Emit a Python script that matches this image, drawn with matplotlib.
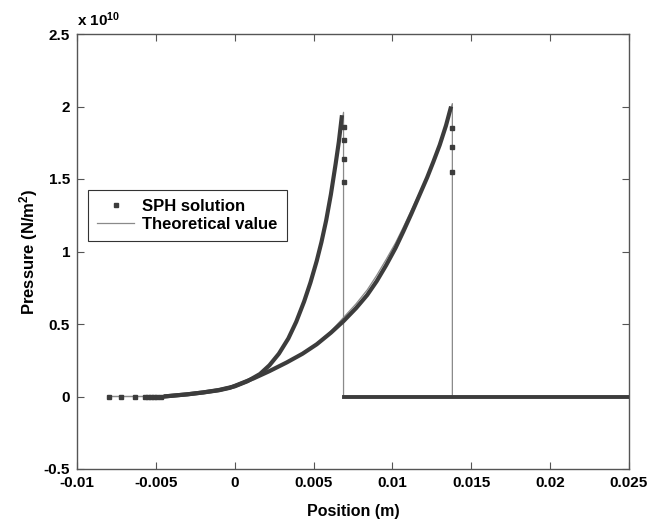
import matplotlib
matplotlib.use("Agg")
import matplotlib.pyplot as plt
from matplotlib.lines import Line2D

plt.rcParams['font.family'] = ['Liberation Sans', 'DejaVu Sans']
plt.rcParams['font.weight'] = 'bold'
plt.rcParams['axes.labelweight'] = 'bold'
plt.rcParams['mathtext.default'] = 'regular'

# ---- data (pressure in units of 1e10 N/m^2, position in m) ----
sph1_x = [-0.0045, -0.004, -0.003, -0.002, -0.001, 0.0, 0.0008, 0.0016, 0.0022,
          0.0028, 0.0034, 0.0039, 0.0044, 0.0048, 0.0052, 0.0055, 0.0058,
          0.0061, 0.0064, 0.0066, 0.0068]
sph1_p = [0.0, 0.005, 0.015, 0.028, 0.045, 0.07, 0.105, 0.155, 0.215,
          0.295, 0.40, 0.515, 0.655, 0.785, 0.935, 1.065, 1.215,
          1.395, 1.605, 1.755, 1.94]

sph2_x = [-0.0045, -0.004, -0.003, -0.002, -0.001, -0.0003, 0.0012, 0.0022, 0.0033,
          0.0043, 0.0052, 0.0061, 0.0069, 0.0077, 0.0084, 0.0090, 0.0096, 0.0102,
          0.0107, 0.0112, 0.0117, 0.0122, 0.0126, 0.0130, 0.0134, 0.01372]
sph2_p = [0.0, 0.005, 0.015, 0.028, 0.043, 0.06, 0.125, 0.175, 0.235,
          0.295, 0.36, 0.44, 0.52, 0.61, 0.70, 0.795, 0.905, 1.025,
          1.14, 1.26, 1.385, 1.51, 1.62, 1.735, 1.87, 2.0]

tail_x = [-0.008, -0.0072, -0.0063, -0.0057, -0.0055, -0.0053, -0.0051, -0.0049, -0.0047]
tail_p = [0, 0, 0, 0, 0, 0, 0, 0, 0]

shock1_x = [0.0069, 0.0069, 0.0069, 0.0069]
shock1_p = [1.86, 1.77, 1.64, 1.48]
shock2_x = [0.0138, 0.0138, 0.0138]
shock2_p = [1.85, 1.72, 1.55]

zero_x = [0.0069, 0.025]
zero_p = [0.0, 0.0]

theory1_x = [-0.008, -0.0045, -0.003, -0.002, -0.001, 0.0, 0.0008, 0.0016, 0.0022,
             0.0028, 0.0034, 0.0039, 0.0044, 0.0048, 0.0052, 0.0055, 0.0058,
             0.0061, 0.0064, 0.0066, 0.0069, 0.0069, 0.025]
theory1_p = [0.0, 0.0, 0.015, 0.028, 0.045, 0.07, 0.105, 0.155, 0.215,
             0.295, 0.40, 0.515, 0.655, 0.785, 0.935, 1.065, 1.215,
             1.395, 1.605, 1.755, 1.96, 0.0, 0.0]

theory2_x = [-0.008, -0.0045, -0.003, -0.002, -0.001, 0.0012, 0.0022, 0.0033, 0.0043,
             0.0052, 0.0061, 0.0069, 0.0077, 0.0084, 0.0090, 0.0096, 0.0102,
             0.0107, 0.0112, 0.0117, 0.0122, 0.0126, 0.0130, 0.0134, 0.0138,
             0.0138, 0.025]
theory2_p = [0.0, 0.0, 0.015, 0.028, 0.043, 0.125, 0.175, 0.235,
             0.295, 0.365, 0.45, 0.545, 0.64, 0.735, 0.835, 0.945, 1.06,
             1.17, 1.285, 1.40, 1.52, 1.63, 1.745, 1.88, 2.02, 0.0, 0.0]

xticks = [-0.01, -0.005, 0, 0.005, 0.01, 0.015, 0.02, 0.025]
xticklabels = ['-0.01', '-0.005', '0', '0.005', '0.01', '0.015', '0.02', '0.025']
yticks = [-0.5, 0, 0.5, 1, 1.5, 2, 2.5]
yticklabels = ['-0.5', '0', '0.5', '1', '1.5', '2', '2.5']

# ---- figure ----
fig = plt.figure(figsize=(6.5, 5.28), dpi=100)
ax = fig.add_axes([77/650, 1 - 469/528, (629-77)/650, (469-34)/528])

sph_col = '#3c3c3c'
th_col = '#8a8a8a'

# theoretical lines
ax.plot(theory1_x, theory1_p, '-', color=th_col, lw=0.9, zorder=2)
ax.plot(theory2_x, theory2_p, '-', color=th_col, lw=0.9, zorder=2)

# SPH dense particle curves (particles so dense they form a thick band)
for xs, ps in [(sph1_x, sph1_p), (sph2_x, sph2_p)]:
    ax.plot(xs, ps, '-', color=sph_col, lw=3.0, zorder=3,
            solid_capstyle='butt', solid_joinstyle='round')
ax.plot(zero_x, zero_p, '-', color=sph_col, lw=2.8, zorder=3)
ax.plot(tail_x, tail_p, 's', color=sph_col, ms=2.2, zorder=3)
ax.plot(shock1_x, shock1_p, 's', color=sph_col, ms=2.2, zorder=3)
ax.plot(shock2_x, shock2_p, 's', color=sph_col, ms=2.2, zorder=3)

ax.set_xlim(-0.01, 0.025)
ax.set_ylim(-0.5, 2.5)
ax.set_xticks(xticks)
ax.set_xticklabels(xticklabels)
ax.set_yticks(yticks)
ax.set_yticklabels(yticklabels)
ax.tick_params(direction='in', top=True, right=True, length=5, width=0.8,
               color='#555555', labelsize=11, pad=5)
for s in ax.spines.values():
    s.set_color('#555555')
    s.set_linewidth(1.0)

ax.set_xlabel('Position (m)', fontsize=11.5, labelpad=10)
ax.set_ylabel('Pressure (N/m$^2$)', fontsize=12, labelpad=3)
ax.text(0.0, 1.012, r'x 10$^{10}$', transform=ax.transAxes, fontsize=11,
        ha='left', va='bottom')

handles = [Line2D([], [], ls='none', marker='s', ms=2.2, color=sph_col),
           Line2D([], [], ls='-', lw=0.9, color=th_col)]
leg = ax.legend(handles, ['SPH solution', 'Theoretical value'],
                loc='upper left', bbox_to_anchor=(0.02, 0.641),
                borderaxespad=0, fancybox=False, framealpha=1,
                edgecolor='#333333', fontsize=12, handlelength=2.2,
                borderpad=0.55, labelspacing=0.15, handletextpad=0.5)
leg.get_frame().set_linewidth(0.8)

fig.savefig('out.png', dpi=100)
